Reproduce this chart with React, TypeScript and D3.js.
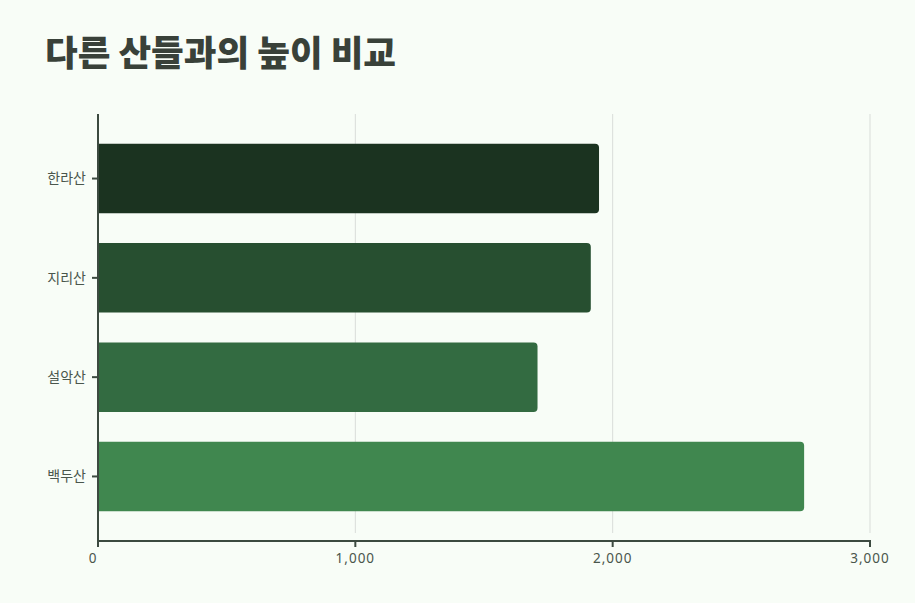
import React from "react";
import * as d3 from "d3";

const WIDTH = 915;
const HEIGHT = 603;
const MARGIN = { top: 114, right: 45, bottom: 62, left: 98 };
const BAR_PADDING = 0.3;

// 산 이름과 높이 (m)
const mountains = ["한라산", "지리산", "설악산", "백두산"];
const heights = [1947, 1915, 1708, 2744];
const barColors = ["#1b3320", "#274f30", "#336b41", "#40874f"];
const xTicks = [0, 1000, 2000, 3000];

const TEXT_COLOR = "#4a564c";
const AXIS_COLOR = "#3c4a40";

export default function App() {
  const boundsWidth = WIDTH - MARGIN.left - MARGIN.right;
  const boundsHeight = HEIGHT - MARGIN.top - MARGIN.bottom;

  const xScale = d3.scaleLinear().domain([0, 3000]).range([0, boundsWidth]);
  const yScale = d3
    .scaleBand()
    .domain(mountains)
    .range([0, boundsHeight])
    .padding(BAR_PADDING);

  const fmt = d3.format(",");
  const r = 4;

  const bars = mountains.map((name, i) => {
    const y = yScale(name) ?? 0;
    const h = yScale.bandwidth();
    const w = xScale(heights[i]);
    const x0 = 1;
    // 왼쪽은 직각, 오른쪽만 둥근 모서리
    const path = `M${x0},${y}H${w - r}Q${w},${y} ${w},${y + r}V${y + h - r}Q${w},${y + h} ${w - r},${y + h}H${x0}Z`;
    return <path key={name} d={path} fill={barColors[i]} />;
  });

  return (
    <svg
      width={WIDTH}
      height={HEIGHT}
      style={{ position: "absolute", left: 0, top: 0, background: "#f8fdf7" }}
    >
      <rect width={WIDTH} height={HEIGHT} fill="#f8fdf7" />
      <text
        x={45}
        y={66}
        fontFamily="'Noto Sans CJK KR', sans-serif"
        fontWeight={900}
        fontSize={35.5}
        fill="#394139"
      >
        다른 산들과의 높이 비교
      </text>
      <g transform={`translate(${MARGIN.left},${MARGIN.top})`}>
        {xTicks.slice(1).map((t) => (
          <line
            key={"g" + t}
            x1={xScale(t)}
            x2={xScale(t)}
            y1={0}
            y2={boundsHeight - 8}
            stroke="#d9ddd9"
            strokeWidth={1}
          />
        ))}
        {bars}
        {/* y axis */}
        <line x1={0} x2={0} y1={0} y2={boundsHeight} stroke={AXIS_COLOR} strokeWidth={2} />
        {mountains.map((name) => {
          const cy = (yScale(name) ?? 0) + yScale.bandwidth() / 2;
          return (
            <g key={"y" + name} transform={`translate(0,${cy})`}>
              <line x1={-6} x2={0} stroke={AXIS_COLOR} strokeWidth={2} />
              <text
                x={-12}
                dy="0.35em"
                textAnchor="end"
                fontFamily="'Noto Sans CJK KR', sans-serif"
                fontSize={14}
                fill={TEXT_COLOR}
              >
                {name}
              </text>
            </g>
          );
        })}
        {/* x axis */}
        <line x1={-1} x2={boundsWidth + 1} y1={boundsHeight} y2={boundsHeight} stroke={AXIS_COLOR} strokeWidth={2} />
        {xTicks.map((t, i) => (
          <g key={"x" + t} transform={`translate(${xScale(t)},${boundsHeight})`}>
            <line y1={0} y2={6} stroke={AXIS_COLOR} strokeWidth={2} />
            <text
              y={22}
              dx={i === 0 ? -5 : 0}
              textAnchor="middle"
              fontFamily="'Noto Sans', sans-serif"
              fontSize={13.5}
              fill={TEXT_COLOR}
              letterSpacing={1}
            >
              {fmt(t)}
            </text>
          </g>
        ))}
      </g>
    </svg>
  );
}
